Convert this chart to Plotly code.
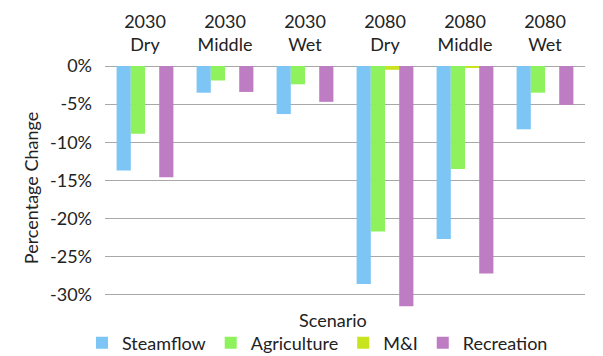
import plotly.graph_objects as go

# Scenario categories (two-line labels on the top axis)
scenarios = ["2030<br>Dry", "2030<br>Middle", "2030<br>Wet",
             "2080<br>Dry", "2080<br>Middle", "2080<br>Wet"]

# Percentage change by sector under each scenario
steamflow = [-13.7, -3.5, -6.3, -28.6, -22.7, -8.3]
agriculture = [-8.9, -1.9, -2.4, -21.7, -13.5, -3.5]
m_and_i = [0.0, 0.0, 0.0, -0.5, -0.2, 0.0]
recreation = [-14.6, -3.4, -4.7, -31.5, -27.2, -5.1]

y_ticks = [0, -5, -10, -15, -20, -25, -30]
y_tick_text = ["0%", "-5%", "-10%", "-15%", "-20%", "-25%", "-30%"]

series = [
    ("Steamflow", steamflow, "#7CC5F5"),
    ("Agriculture", agriculture, "#8EF25C"),
    ("M&I", m_and_i, "#C8E41E"),
    ("Recreation", recreation, "#BE7DC3"),
]

FONT = "Lato, 'Open Sans', sans-serif"
TEXT = "#222222"
GRID = "#A8A8A8"
FS = 18

fig = go.Figure()
for name, vals, color in series:
    fig.add_trace(go.Bar(
        name=name, x=scenarios, y=vals,
        marker=dict(color=color, line=dict(width=0)),
    ))

fig.update_layout(
    width=603, height=356,
    margin=dict(l=105, r=18, t=66, b=46, autoexpand=False),
    paper_bgcolor="white", plot_bgcolor="white",
    barmode="group", bargap=0.29, bargroupgap=0,
    font=dict(family=FONT, size=FS, color=TEXT),
    showlegend=True,
    legend=dict(
        orientation="h", xref="container", x=82 / 603, xanchor="left",
        yref="container", y=1 - 343 / 356, yanchor="middle",
        font=dict(family=FONT, size=FS, color=TEXT),
        itemwidth=30, tracegroupgap=0,
        bgcolor="rgba(0,0,0,0)",
    ),
    annotations=[dict(
        text="Scenario", xref="paper", yref="paper",
        x=0.475, y=-10 / 244, xanchor="center", yanchor="middle",
        showarrow=False, font=dict(family=FONT, size=FS, color=TEXT),
    )],
)

fig.update_xaxes(
    side="top", showgrid=False, showline=False, zeroline=False,
    ticks="", tickfont=dict(family=FONT, size=FS, color=TEXT),
    ticklabelstandoff=10,
)

fig.update_yaxes(
    range=[-32, 0], tickvals=y_ticks, ticktext=y_tick_text,
    showgrid=True, gridcolor=GRID, gridwidth=1,
    zeroline=True, zerolinecolor=GRID, zerolinewidth=1,
    showline=False, ticks="",
    tickfont=dict(family=FONT, size=FS, color=TEXT),
    ticklabelstandoff=12,
    title=dict(text="Percentage Change", standoff=6,
               font=dict(family=FONT, size=FS, color=TEXT)),
)

fig.write_html("out.html")
